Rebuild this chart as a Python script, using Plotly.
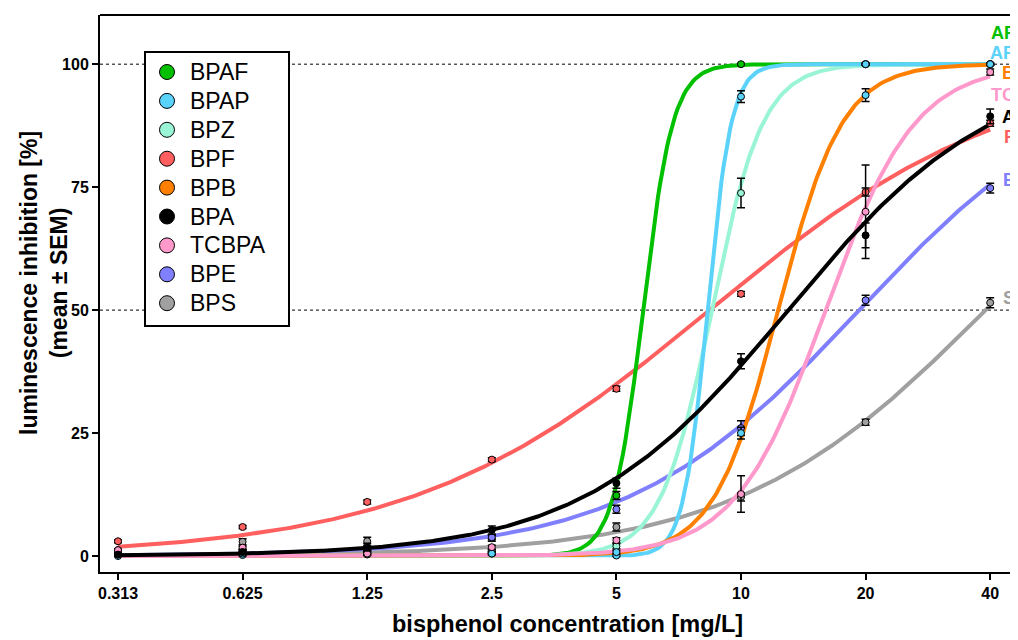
import numpy as np
import plotly.graph_objects as go

# ---- data ----
concentrations = [0.3125, 0.625, 1.25, 2.5, 5, 10, 20, 40]
tick_labels = ["0.313", "0.625", "1.25", "2.5", "5", "10", "20", "40"]

compounds = ["BPAF", "BPAP", "BPZ", "BPF", "BPB", "BPA", "TCBPA", "BPE", "BPS"]
line_colors = ["#00c000", "#5ad2fa", "#99f5d6", "#ff5f5f", "#ff8000",
               "#000000", "#ff99cc", "#8080ff", "#a0a0a0"]
point_colors = ["#00c000", "#5ad2fa", "#99f5d6", "#ff5f5f", "#5ad2fa",
                "#000000", "#ff99cc", "#8080ff", "#a0a0a0"]

mean_BPAF = [0.3, 0.5, 0.8, 0.9, 12.3, 100, 100, 100]
mean_BPAP = [0.0, 0.2, 0.3, 0.5, 0.1, 93.4, 100, 100]
mean_BPZ = [0.5, 0.8, 0.8, 0.9, 2.0, 73.8, 100, 100]
mean_BPF = [3.0, 5.9, 11.0, 19.6, 34.0, 53.3, 74.0, 88.0]
mean_BPB = [0.3, 0.5, 0.5, 0.5, 0.8, 25.0, 93.7, 100]
mean_BPA = [0.3, 0.8, 1.8, 5.3, 14.8, 39.6, 65.2, 89.4]
mean_TCBPA = [1.2, 1.7, 0.5, 1.8, 3.2, 12.6, 70.0, 98.4]
mean_BPE = [0.5, 1.0, 1.5, 3.8, 9.5, 26.0, 52.0, 74.8]
mean_BPS = [1.2, 2.9, 3.0, 3.6, 5.9, 12.0, 27.2, 51.5]

sem_BPAF = [0.2, 0.2, 0.3, 0.3, 0.8, 0.2, 0.2, 0.2]
sem_BPAP = [0.1, 0.2, 0.2, 0.2, 0.2, 1.2, 0.2, 0.2]
sem_BPZ = [0.3, 0.3, 0.3, 0.4, 0.5, 3.0, 0.2, 0.2]
sem_BPF = [0.3, 0.3, 0.4, 0.4, 0.5, 0.5, 0.8, 0.6]
sem_BPB = [0.2, 0.2, 0.3, 0.3, 0.3, 1.2, 1.3, 0.2]
sem_BPA = [0.3, 0.5, 0.8, 0.8, 1.0, 1.5, 2.5, 1.5]
sem_TCBPA = [0.3, 0.3, 0.3, 0.4, 0.5, 3.7, 9.5, 0.6]
sem_BPE = [0.3, 0.3, 0.4, 0.5, 0.8, 1.5, 1.0, 1.0]
sem_BPS = [0.3, 0.6, 0.8, 0.6, 0.8, 0.8, 0.6, 1.0]

# fitted dose-response parameters (EC50 in mg/L, Hill slope)
ec50 = [5.8, 8.3, 8.5, 8.4, 12.3, 13.0, 16.0, 19.3, 39.0]
hill = [12.0, 15.0, 7.0, 1.2, 5.6, 1.75, 4.0, 1.55, 1.45]

means = [mean_BPAF, mean_BPAP, mean_BPZ, mean_BPF, mean_BPB, mean_BPA,
         mean_TCBPA, mean_BPE, mean_BPS]
sems = [sem_BPAF, sem_BPAP, sem_BPZ, sem_BPF, sem_BPB, sem_BPA,
        sem_TCBPA, sem_BPE, sem_BPS]

right_labels = ["AF", "AP", "B", "TC", "A", "F", "E", "S"]
right_label_colors = ["#00c000", "#5ad2fa", "#ff8000", "#ff99cc",
                      "#000000", "#ff5f5f", "#8080ff", "#a0a0a0"]
right_label_y = [106.3, 102.2, 98.2, 93.7, 89.2, 85.2, 76.4, 52.4]

FONT = "Liberation Sans, Arial"

# plot-area geometry (pixels, relative to the visible page)
PL, PR, PT, PB = 100, 1018, 15, 572
PW, PH = PR - PL, PB - PT


def px(x):
    return (x - PL) / PW


def py(y):
    return (PB - y) / PH


# ---- figure ----
fig = go.Figure()
xs = np.logspace(np.log10(concentrations[0]), np.log10(concentrations[-1]), 400)

draw_order = [3, 8, 7, 0, 2, 1, 4, 6, 5]
for i in draw_order:
    ys = 100.0 / (1.0 + (ec50[i] / xs) ** hill[i])
    fig.add_trace(go.Scatter(x=xs, y=ys, mode="lines",
                             line=dict(color=line_colors[i], width=4),
                             showlegend=False, hoverinfo="skip"))

for i in draw_order:
    fig.add_trace(go.Scatter(
        x=concentrations, y=means[i], mode="markers",
        marker=dict(color=point_colors[i], size=7,
                    line=dict(color="black", width=1)),
        error_y=dict(type="data", array=sems[i], color="black",
                     thickness=1.5, width=4),
        showlegend=False, name=compounds[i]))

# dotted reference lines
for yv in [50, 100]:
    fig.add_shape(type="line", xref="paper", x0=0, x1=1, yref="y", y0=yv, y1=yv,
                  line=dict(color="black", width=1, dash="dot"), layer="below")
# top frame line
fig.add_shape(type="line", xref="paper", x0=0, x1=1, yref="paper", y0=1, y1=1,
              line=dict(color="black", width=2))

# legend box (drawn manually)
fig.add_shape(type="rect", xref="paper", yref="paper",
              x0=px(145), x1=px(289), y0=py(326), y1=py(52),
              fillcolor="white", line=dict(color="black", width=2),
              layer="above")
for k, name in enumerate(compounds):
    yc = 72 + k * 28.9
    fig.add_shape(type="circle", xref="paper", yref="paper",
                  xsizemode="pixel", ysizemode="pixel",
                  xanchor=px(167), yanchor=py(yc),
                  x0=-7.5, x1=7.5, y0=-7.5, y1=7.5,
                  fillcolor=line_colors[k], line=dict(color="black", width=1),
                  layer="above")
    fig.add_annotation(x=px(188), xref="paper", y=py(yc), yref="paper",
                       text=name, showarrow=False, xanchor="left",
                       yanchor="middle",
                       font=dict(family=FONT, size=23, color="black"))

for txt, col, yv in zip(right_labels, right_label_colors, right_label_y):
    fig.add_annotation(x=1.0, xref="paper", y=yv, yref="y", text=txt,
                       showarrow=False, xanchor="right", yanchor="middle",
                       xshift=-1,
                       font=dict(family=FONT, size=18, color=col, weight="bold"))

# axis titles
fig.add_annotation(x=px(567), xref="paper", y=py(624),
                   yref="paper", text="bisphenol concentration [mg/L]",
                   showarrow=False, xanchor="center", yanchor="middle",
                   font=dict(family=FONT, size=23.5, color="black", weight="bold"))
fig.add_annotation(x=px(44), xref="paper", y=py(283),
                   yref="paper",
                   text="luminescence inhibition [%]<br>(mean ± SEM)",
                   showarrow=False, xanchor="center", yanchor="middle",
                   textangle=-90,
                   font=dict(family=FONT, size=23, color="black", weight="bold"))

axis_font = dict(family=FONT, size=16, color="black", weight="bold")
fig.update_xaxes(type="log", range=[-0.54864, 1.66923],
                 tickvals=concentrations, ticktext=tick_labels,
                 ticks="outside", ticklen=6, tickwidth=2, tickcolor="black",
                 showline=True, linecolor="black", linewidth=2,
                 showgrid=False, zeroline=False, tickfont=axis_font,
                 automargin=False)
fig.update_yaxes(range=[-3.25, 110], tickvals=[0, 25, 50, 75, 100],
                 ticks="outside", ticklen=6, tickwidth=2, tickcolor="black",
                 showline=True, linecolor="black", linewidth=2,
                 showgrid=False, zeroline=False, tickfont=axis_font,
                 automargin=False)

# the page body adds an 8px offset, so the figure is shrunk and shifted
OFF = 8
FIG_W, FIG_H = 1018 - OFF, 640 - OFF
fig.update_layout(
    width=FIG_W, height=FIG_H,
    margin=dict(l=PL - OFF, r=0, t=PT - OFF, b=FIG_H - (PB - OFF),
                autoexpand=False),
    plot_bgcolor="white", paper_bgcolor="white",
    showlegend=False,
)

fig.write_html("out.html")
